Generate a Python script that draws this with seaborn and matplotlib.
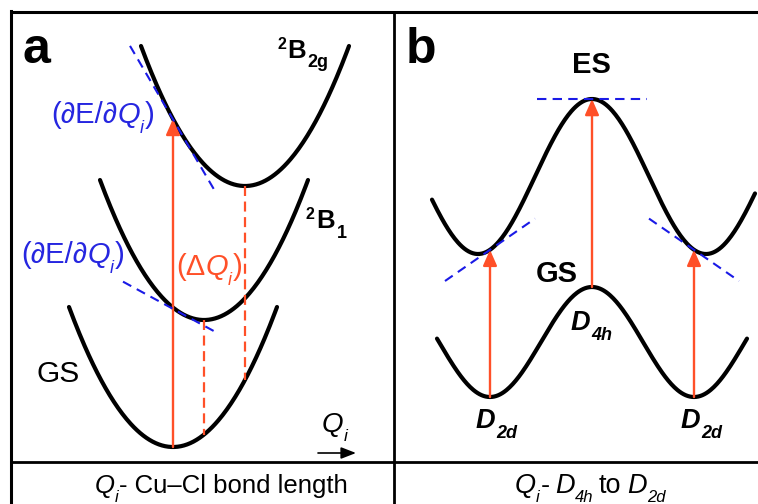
import numpy as np
import pandas as pd
import matplotlib
matplotlib.use("Agg")
import matplotlib.pyplot as plt
from matplotlib.patches import FancyArrowPatch
import seaborn as sns

# ---------------- data (drawing units: pixels, y pointing down) ----------------
# Panel a: harmonic potential wells along Q_i
well_names = ["GS", "2B1", "2B2g"]
well_min_x = [173, 204, 245]
well_min_y = [447, 320, 186]
well_half_width = 104
well_rise = 140

# slope markers on the excited wells: state, touch point, reach left / right
tangent_states = ["2B2g", "2B1"]
tangent_x = [179, 183]
tangent_from = [130, 123]
tangent_to = [216, 219]

# vertical excitation from the GS minimum into 2B2g
excite_x = 173

# Panel b: D4h <-> D2d double-well profiles
profile_names = ["ES", "GS"]
profile_peak_x = [592, 592]
profile_peak_y = [99, 287]
profile_depth = [155, 110]
profile_half_period = [114, 102]
profile_left = [432, 437]
profile_right = [755, 747]

b_arrow_x = [490, 592, 694]
b_tangent_x = [490, 694]
b_tangent_reach = 45
b_peak_reach = 55

RED = "#ff5028"
BLUE = "#1a1ae6"
BLUE_TXT = "#2626e0"

# ---------------- helpers ----------------
def well_y(name, x):
    i = well_names.index(name)
    return well_min_y[i] - well_rise * ((np.asarray(x) - well_min_x[i]) / well_half_width) ** 2


def well_slope(name, x):
    i = well_names.index(name)
    return -2 * well_rise * (x - well_min_x[i]) / well_half_width ** 2


def profile_y(name, x):
    i = profile_names.index(name)
    ph = np.pi * (np.asarray(x) - profile_peak_x[i]) / profile_half_period[i]
    return profile_peak_y[i] + profile_depth[i] * (1 - np.cos(ph)) / 2


def profile_slope(name, x):
    i = profile_names.index(name)
    hp = profile_half_period[i]
    ph = np.pi * (x - profile_peak_x[i]) / hp
    return profile_depth[i] / 2 * np.sin(ph) * np.pi / hp


def rich(ax, x, y, parts, color="black", ha="left"):
    """Lay out text pieces (text, size, weight, style, dy, gap) along one baseline."""
    renderer = ax.figure.canvas.get_renderer()
    texts, cur = [], x
    for s, size, weight, style, dy, gap in parts:
        t = ax.text(cur, y + dy, s, fontsize=size, fontweight=weight, fontstyle=style,
                    color=color, ha="left", va="baseline", zorder=6)
        cur += t.get_window_extent(renderer=renderer).width + gap
        texts.append(t)
    if ha == "center":
        shift = (cur - x) / 2
        for t in texts:
            t.set_x(t.get_position()[0] - shift)


# ---------------- figure ----------------
sns.set_theme(style="white")
plt.rcParams["font.family"] = ["Liberation Sans", "DejaVu Sans"]
plt.rcParams["text.color"] = "black"

fig = plt.figure(figsize=(7.58, 5.04), dpi=100)
ax = fig.add_axes([0, 0, 1, 1])

rows = []
for i, name in enumerate(well_names):
    xs = np.linspace(well_min_x[i] - well_half_width, well_min_x[i] + well_half_width, 200)
    rows.append(pd.DataFrame({"x": xs, "y": well_y(name, xs), "curve": "a_" + name}))
for i, name in enumerate(profile_names):
    xs = np.linspace(profile_left[i], profile_right[i], 300)
    rows.append(pd.DataFrame({"x": xs, "y": profile_y(name, xs), "curve": "b_" + name}))
curves = pd.concat(rows, ignore_index=True)

sns.lineplot(data=curves, x="x", y="y", units="curve", estimator=None, sort=False,
             color="black", lw=3.0, ax=ax, zorder=2)

ax.set_xlim(0, 758)
ax.set_ylim(504, 0)
ax.set_axis_off()

# frame
ax.plot([11, 11], [11, 506], color="black", lw=2.2, zorder=5, solid_capstyle="projecting")
ax.plot([11, 760], [12, 12], color="black", lw=2.2, zorder=5)
ax.plot([394, 394], [12, 506], color="black", lw=2.0, zorder=5)
ax.plot([11, 760], [462, 462], color="black", lw=2.0, zorder=5)

# ---- panel a ----
# excitation arrow
y_top = float(well_y("2B2g", excite_x))
ax.add_patch(FancyArrowPatch((excite_x, well_min_y[0]), (excite_x, y_top),
                             arrowstyle="-|>,head_length=0.95,head_width=0.42",
                             mutation_scale=10, lw=1.7, color=RED,
                             shrinkA=0, shrinkB=0, zorder=3))
# displacement markers below the excited-state minima
for name in ["2B1", "2B2g"]:
    i = well_names.index(name)
    x0 = well_min_x[i]
    ax.plot([x0, x0], [well_min_y[i], float(well_y("GS", x0))], color=RED, lw=1.6,
            linestyle=(0, (4.5, 2.5)), zorder=3)
# slope markers
for name, xt, xa, xb in zip(tangent_states, tangent_x, tangent_from, tangent_to):
    yt = float(well_y(name, xt))
    m = well_slope(name, xt)
    ax.plot([xa, xb], [yt + m * (xa - xt), yt + m * (xb - xt)], color=BLUE, lw=1.5,
            linestyle=(0, (4.5, 3)), zorder=4)

# Q_i direction arrow
ax.add_patch(FancyArrowPatch((318, 453), (356, 453),
                             arrowstyle="-|>,head_length=0.9,head_width=0.35",
                             mutation_scale=10, lw=1.2, color="black",
                             shrinkA=0, shrinkB=0, zorder=3))

# ---- panel b ----
for xa in b_arrow_x:
    ax.add_patch(FancyArrowPatch((xa, float(profile_y("GS", xa))), (xa, float(profile_y("ES", xa))),
                                 arrowstyle="-|>,head_length=0.95,head_width=0.42",
                                 mutation_scale=10, lw=1.7, color=RED,
                                 shrinkA=0, shrinkB=0, zorder=3))
for xt in b_tangent_x:
    yt = float(profile_y("ES", xt))
    m = profile_slope("ES", xt)
    xa, xb = xt - b_tangent_reach, xt + b_tangent_reach
    ax.plot([xa, xb], [yt + m * (xa - xt), yt + m * (xb - xt)], color=BLUE, lw=1.5,
            linestyle=(0, (4.5, 3)), zorder=4)
pk = profile_peak_x[0]
ax.plot([pk - b_peak_reach, pk + b_peak_reach], [profile_peak_y[0]] * 2, color=BLUE, lw=1.5,
        linestyle=(0, (4.5, 3)), zorder=4)

# ---------------- labels ----------------
fig.canvas.draw()
N, B = "normal", "bold"
R, I = "normal", "italic"

ax.text(23, 63, "a", fontsize=36, fontweight=B, va="baseline", ha="left", color="black")
ax.text(406, 63, "b", fontsize=36, fontweight=B, va="baseline", ha="left", color="black")

rich(ax, 277, 58, [("2", 11.5, B, R, -9, 1), ("B", 18.5, B, R, 0, 2), ("2g", 13, B, R, 9, 0)])
rich(ax, 306, 228, [("2", 11.5, B, R, -9, 1), ("B", 18.5, B, R, 0, 2), ("1", 13, B, R, 10, 0)])

dEdQ = [("(∂E/∂", 21, N, R, 0, 0), ("Q", 21, N, I, 0, 0), ("i", 13, N, I, 10, 1), (")", 21, N, R, 0, 0)]
rich(ax, 51, 123, dEdQ, color=BLUE_TXT)
rich(ax, 21, 263, dEdQ, color=BLUE_TXT)
rich(ax, 176, 275, [("(Δ", 21, N, R, 0, 0), ("Q", 21, N, I, 0, 0), ("i", 13, N, I, 10, 1),
                    (")", 21, N, R, 0, 0)], color=RED)

ax.text(37, 382, "GS", fontsize=21.5, va="baseline", ha="left", color="black")
rich(ax, 322, 432, [("Q", 20, N, I, 0, 0), ("i", 12.5, N, I, 9, 0)])

rich(ax, 221, 493, [("Q", 18.5, N, I, 0, 0), ("i", 12, N, I, 9, 1),
                    ("- Cu–Cl bond length", 18.5, N, R, 0, 0)], ha="center")
rich(ax, 590, 493, [("Q", 19.5, N, I, 0, 0), ("i", 12, N, I, 9, 1), ("-", 19.5, N, R, 0, 6),
                    ("D", 19.5, N, I, 0, 0), ("4h", 12, N, I, 9, 5), ("to", 19.5, N, R, 0, 6),
                    ("D", 19.5, N, I, 0, 0), ("2d", 12, N, I, 9, 0)], ha="center")

ax.text(572, 73, "ES", fontsize=21, fontweight=B, va="baseline", ha="left", color="black")
ax.text(536, 282, "GS", fontsize=21, fontweight=B, va="baseline", ha="left", color="black")
rich(ax, 571, 330, [("D", 19.5, B, I, 0, 1), ("4h", 13, B, I, 10, 0)])
rich(ax, 476, 428, [("D", 19.5, B, I, 0, 1), ("2d", 13, B, I, 10, 0)])
rich(ax, 681, 428, [("D", 19.5, B, I, 0, 1), ("2d", 13, B, I, 10, 0)])

fig.savefig("out.png", dpi=100)
